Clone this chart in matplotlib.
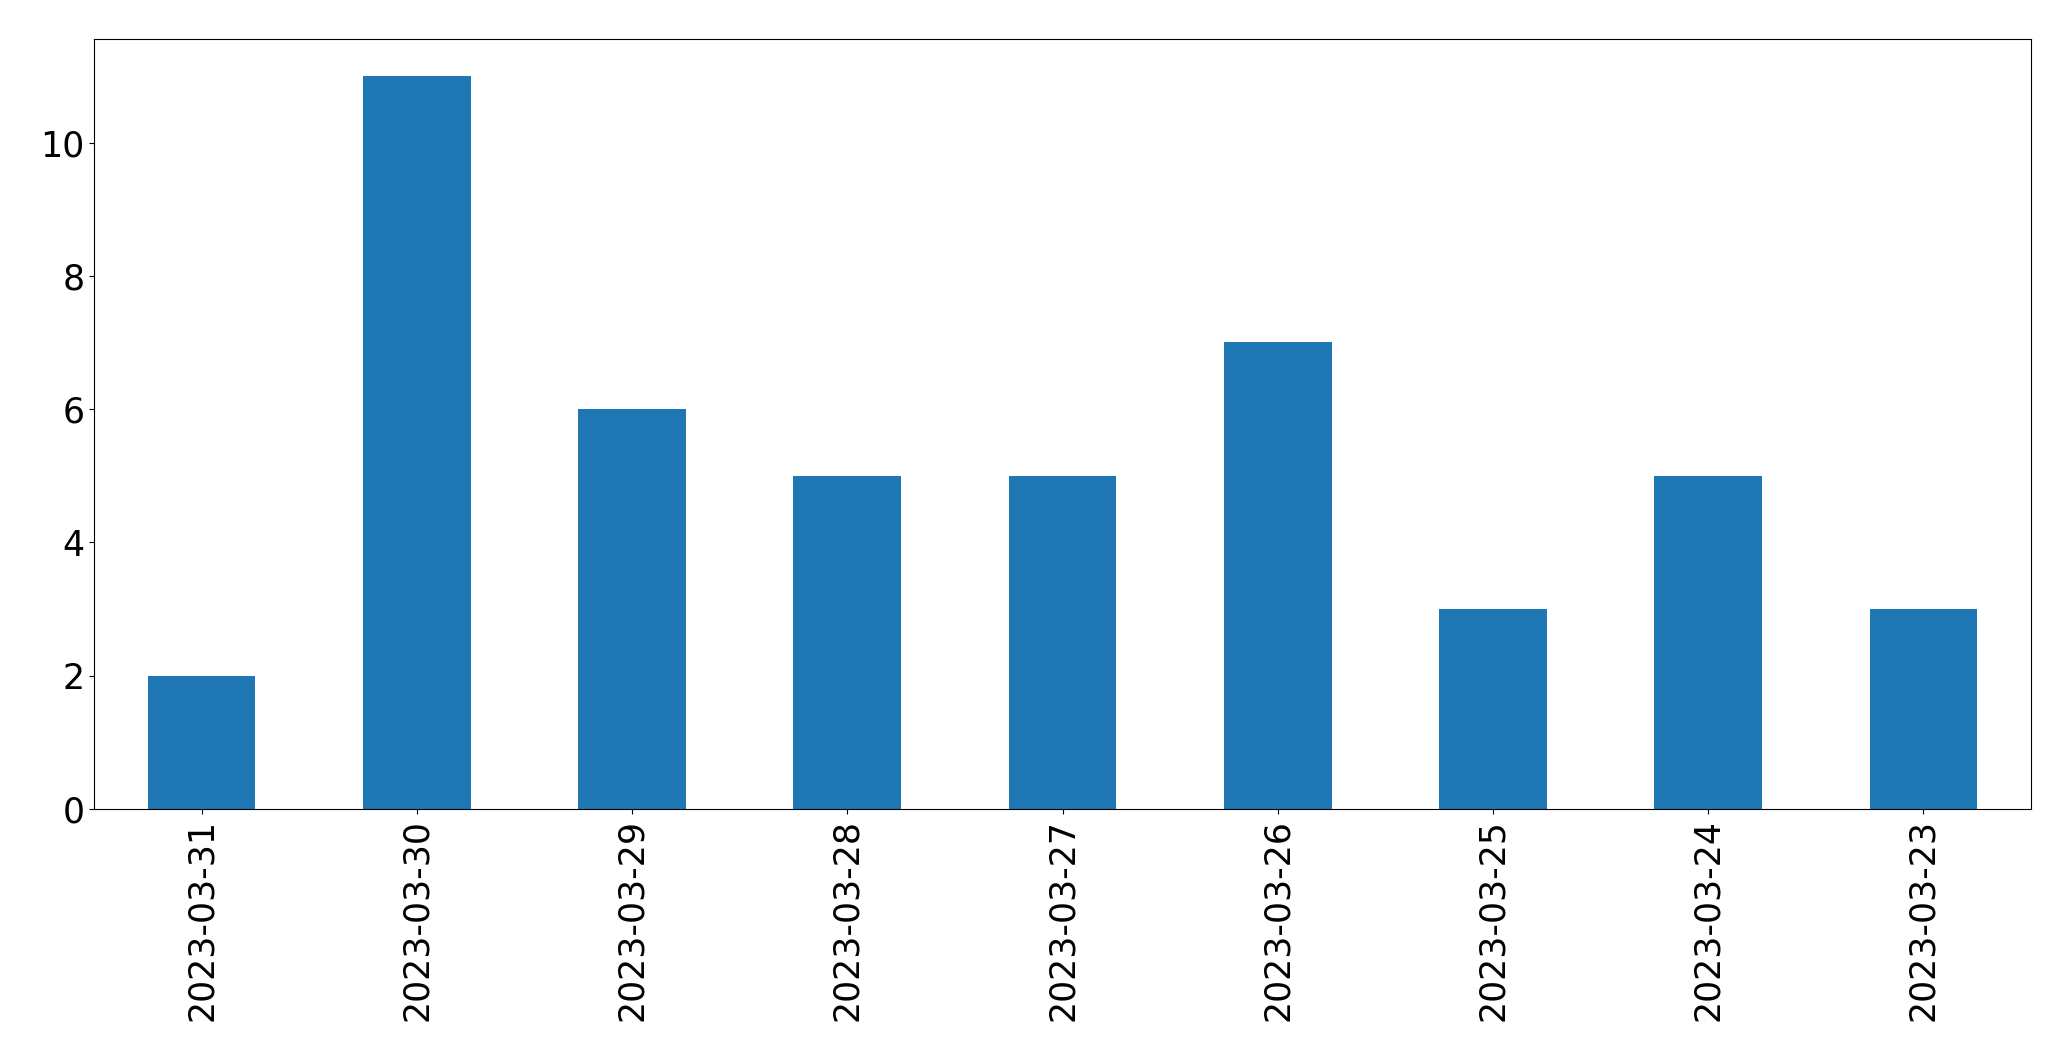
import matplotlib
matplotlib.use("Agg")
import matplotlib.pyplot as plt
import pandas as pd

dates = ["2023-03-31", "2023-03-30", "2023-03-29", "2023-03-28", "2023-03-27",
         "2023-03-26", "2023-03-25", "2023-03-24", "2023-03-23"]
counts = [2, 11, 6, 5, 5, 7, 3, 5, 3]

s = pd.Series(counts, index=dates)

fig, ax = plt.subplots(figsize=(20.71, 10.61), dpi=100)
s.plot(kind="bar", ax=ax, color="#1f77b4", fontsize=25)
ax.tick_params(axis="both", labelsize=25)
fig.subplots_adjust(left=0.0454, right=0.9807, top=0.963, bottom=0.2375)
fig.savefig("out.png", dpi=100)
